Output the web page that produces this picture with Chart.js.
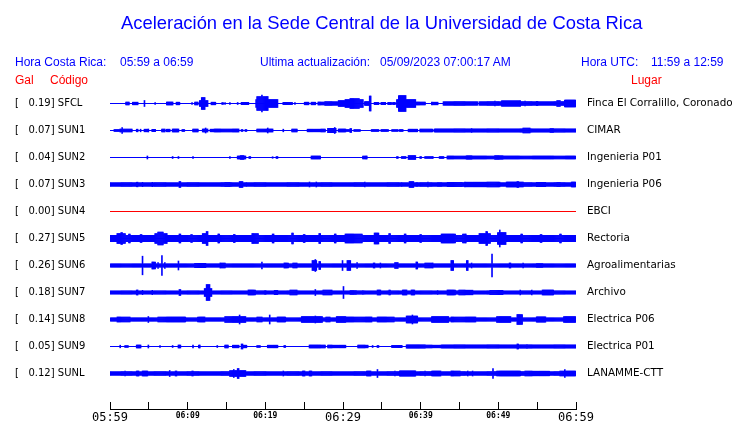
<!DOCTYPE html>
<html>
<head>
<meta charset="utf-8">
<script src="https://cdn.jsdelivr.net/npm/chart.js@4.4.1/dist/chart.umd.min.js"></script>
<style>
  html, body { margin: 0; padding: 0; background: #ffffff; }
  #wrap { position: relative; width: 740px; height: 423px; overflow: hidden; }
  #c { position: absolute; left: 0; top: 0; }
  .t { position: absolute; white-space: pre; font-family: "Liberation Sans", Arial, sans-serif; line-height: 1; }
  .blue { color: #0000ff; }
  .red { color: #ff0000; }
</style>
</head>
<body>
<div id="wrap">
  <canvas id="c" width="740" height="423"></canvas>
  <div class="t blue" style="left:121px; top:14.4px; font-size:18.4px;">Aceleración en la Sede Central de la Universidad de Costa Rica</div>
  <div class="t blue" style="left:15px; top:55.8px; font-size:12px;">Hora Costa Rica:</div>
  <div class="t blue" style="left:120px; top:55.8px; font-size:12px;">05:59 a 06:59</div>
  <div class="t blue" style="left:260px; top:55.8px; font-size:12px;">Ultima actualización:</div>
  <div class="t blue" style="left:380px; top:55.8px; font-size:12px;">05/09/2023 07:00:17 AM</div>
  <div class="t blue" style="left:581px; top:55.8px; font-size:12px;">Hora UTC:</div>
  <div class="t blue" style="left:651px; top:55.8px; font-size:12px;">11:59 a 12:59</div>
  <div class="t red" style="left:15px; top:73.8px; font-size:12px;">Gal</div>
  <div class="t red" style="left:50px; top:73.8px; font-size:12px;">Código</div>
  <div class="t red" style="left:631px; top:73.8px; font-size:12px;">Lugar</div>
</div>
<script>
// ---- DATA ----
const codes  = ["SFCL", "SUN1", "SUN2", "SUN3", "SUN4", "SUN5", "SUN6", "SUN7", "SUN8", "SUN9", "SUNL"];
const gal    = [0.19, 0.07, 0.04, 0.07, 0.00, 0.27, 0.26, 0.18, 0.14, 0.05, 0.12];
const places = ["Finca El Corralillo, Coronado", "CIMAR", "Ingenieria P01", "Ingenieria P06", "EBCI",
                "Rectoria", "Agroalimentarias", "Archivo", "Electrica P06", "Electrica P01", "LANAMME-CTT"];
// minutes after 05:59 for axis ticks and their labels
const tickMinutes = [0, 5, 10, 15, 20, 25, 30, 35, 40, 45, 50, 55, 60];
const tickLabels  = ["05:59", "", "06:09", "", "06:19", "", "06:29", "", "06:39", "", "06:49", "", "06:59"];
const majorLabels = ["05:59", "06:29", "06:59"];

// Envelope segments per trace: [start minute, end minute, half-amplitude]
const sfcl = [[2.1,2.4,1.3],[3.0,3.6,1.3],[4.4,4.4,3],[5.8,5.8,1],[7.3,8.1,1.5],[8.6,8.9,1.3],[10.6,10.6,1],[10.9,11.3,1.3],
  [11.6,12.5,3],[11.8,12.2,6],[13.1,13.5,1.3],[14.5,14.5,1],[14.8,14.8,1],[15.4,15.4,1],[16.4,16.4,1],[17.0,17.8,1.2],
  [18.8,21.6,4],[19.0,20.3,7],[19.6,19.6,8.5],[22.3,23.4,1.2],[23.8,23.8,1],[25.1,25.5,1.3],[26.0,26.4,1.3],[26.8,27.7,1.5],
  [27.7,29.4,1.8],[29.4,30.3,3],[30.3,32.6,4],[31.0,32.0,5],[32.8,33.5,2],[33.5,33.5,7.5],[34.1,34.5,1.2],[35.0,35.4,1.2],
  [35.8,36.2,1.2],[36.5,36.7,1.2],[37.0,39.3,4],[37.2,38.0,8],[39.3,40.6,1.5],[41.5,42.2,1.3],[42.9,47.3,1.8],[47.6,60,1.8],
  [49.6,49.6,2.5],[50.5,52.8,2.8],[53.4,53.4,2.5],[55,55,2.2],[57.6,57.9,3],[58.6,59.9,3.5]];
const sun1 = [[0.6,1.3,1],[1.3,2.2,1.5],[1.6,1.6,3],[2.3,2.8,1.5],[3.5,3.5,1.3],[3.9,3.9,1.3],[4.5,4.8,1.3],[4.9,4.9,1.5],
  [5.5,5.8,1.2],[6.7,7.1,1.3],[7.3,7.7,1.3],[8.1,8.8,1.5],[9.3,9.5,1],[10.7,11.3,1.3],[12.0,12.5,1.5],[12.3,12.3,2.5],
  [12.9,13.3,1.3],[13.5,14.8,1.5],[14.8,16.5,1.5],[16.9,17.1,1],[17.4,17.6,1],[18.9,20.9,1.5],[20.3,20.3,2.5],[22.3,22.3,1.3],
  [23.4,24.1,1.3],[25.5,27.7,1.3],[28.1,29.0,2.2],[28.9,28.9,3],[29.4,30.3,1.5],[30.4,30.8,1],[31,31,2],[31.5,32.2,1],
  [33.7,34.5,1],[35,35.8,1],[36.3,37,1],[37.3,37.7,1],[38.4,39.5,1.3],[39.9,41.5,1.3],[41.8,60,1.6],[46.6,46.6,2],
  [53.2,54.1,2.5],[56.7,57,2]];
const sun2 = [[4.8,4.8,1.5],[8.1,8.1,1],[8.8,8.8,1],[10.7,10.7,1],[15.4,15.4,1],[16.4,17.4,1.5],[16.8,17.2,2],[18,18,1],
  [20.9,20.9,0.8],[21.5,21.5,1],[26,27,1.5],[32.6,33.1,1.5],[37,37,1],[37.6,38,1],[38.4,39.3,2],[40,40,1],[40.6,41.5,1],
  [42.5,42.9,1],[43.5,60,1.5],[46,46.6,1.8],[49.6,50.6,1.8]];
const sun3 = [[0,60,1.8],[3.5,3.5,2.3],[4.2,4.2,2.2],[5.4,5.4,2.2],[9.0,9.0,3],[14.8,15.4,2.2],[16.7,17.1,3],[17.6,17.6,2],
  [25.7,25.7,2.5],[26.6,26.6,2.5],[32.8,32.8,2.5],[37.6,37.6,2],[38.6,39,3],[39.5,39.5,2],[40.9,40.9,2.5],[42.2,42.7,2],
  [43.5,45.3,2.2],[45.7,50.2,2.3],[51.1,53.2,2.5],[52.5,52.5,3],[55,56,2.2],[57.6,57.9,2.2],[59.5,59.9,2.5]];
const sun4 = [];
const sun5 = [[0,60,3.2],[1.0,1.9,5],[1.5,1.5,6],[2.5,2.5,4.5],[4,4,4],[5.8,7.3,5],[6.2,6.8,6.5],[9,9,4.5],[10.5,10.5,4],
  [12,12.6,5],[12.5,12.5,7],[14,14,4.5],[16,16,4],[18.3,19,5],[21,21,4.5],[23.5,23.5,5.5],[25,25,4],[27,27,5],[29,29,4.5],
  [30.3,32.4,4.5],[34.1,34.5,5.5],[36,36,5],[38,38,4.5],[40,40,4],[42.7,44.4,4.5],[45.4,45.8,4.5],[47.6,48.9,5],
  [48.5,48.5,7],[50,50.9,6],[50.2,50.2,8.5],[53,53,4.5],[55.5,55.5,4],[58,58,4.5]];
const sun6 = [[0,60,1.7],[4.2,4.2,9.3],[5.5,5.8,3.5],[6.2,6.2,3],[6.7,6.7,10],[7.1,7.1,3],[8.8,8.8,4.5],[11,12.3,2.2],
  [14.2,14.8,2.5],[19.6,19.6,3.5],[22.5,22.9,2.5],[23.6,24.1,2.5],[26.1,26.6,5],[26.4,26.4,6],[27,27,4],[29.9,29.9,5],
  [30.6,30.9,5],[31.8,31.8,3],[33.9,34.1,2.5],[34.8,34.8,2.5],[36.7,37.1,3],[39.5,39.5,3.5],[40.6,41.6,2.5],[44,44.2,5],
  [46,46,5],[46.6,46.6,2.5],[49.2,49.2,11.5],[51.5,51.5,2.5],[53.2,53.2,2.5],[55,55.7,2]];
const sun7 = [[0,60,1.6],[3.5,3.5,2.5],[4.2,4.2,2.2],[5.4,5.4,2.2],[9.0,9.0,3],[12.2,13.1,4],[12.5,12.8,8],[17.8,18.7,2.5],
  [20,20,2],[21.2,21.6,2.2],[23.2,24.1,2.5],[26.4,26.4,3],[27.5,28.5,2.3],[30.1,30.1,6],[31,31.7,2],[32.6,32.6,2],
  [34.4,34.8,2.5],[36,36,2.5],[37.7,38.2,2.5],[38.8,39.2,2.5],[42.2,42.2,2],[43.4,44.4,2.5],[45,46.7,2.3],[48.9,50.6,2.2],
  [52.8,52.8,2.5],[54.3,54.3,2.5],[55.7,57,2.5]];
const sun8 = [[0,60,1.7],[1,2.6,2.5],[4.9,4.9,3],[6.2,9.7,2.5],[11.3,12.2,2.5],[14.8,17.4,3],[16.7,16.7,4.5],[19,19.5,2.5],
  [20.6,20.6,4.5],[21.6,22.5,2.5],[24.7,27.3,3],[26.4,26.4,3.5],[27.8,28.3,2.5],[29.2,30.3,3],[30.3,33.7,2.5],[34.5,36.5,2.5],
  [38.2,39.5,3.5],[38.9,38.9,4.5],[41.5,43.5,3],[44,45.7,2.5],[45,47,2.5],[49.8,51.5,3],[52.4,53,5],[55,56,2.7],[58.5,59.9,3]];
const sun9 = [[1.3,1.3,1.3],[1.9,2.3,1],[3.5,3.9,1.5],[4.9,4.9,1.5],[6.4,6.4,1],[8.1,8.1,1],[8.8,9,1.5],[10.7,10.7,1.5],
  [11.5,11.5,1.5],[13.8,13.8,1],[14.8,15.2,1.3],[15.8,16.6,1.3],[17,17,2.5],[17.2,17.6,1.3],[18.9,19.3,1],[20.3,21.6,1.3],
  [22.5,22.5,1],[25.7,27.7,1.5],[28.1,30.3,1.3],[31.9,33.2,1.3],[33.8,33.8,1],[34.5,34.5,1],[36.3,37.6,1.2],[38.2,40.6,1.7],
  [40.6,42.5,1.3],[42.7,60,1.6],[52.5,52.5,2.5],[53.7,53.7,2]];
const sunl = [[0,60,1.8],[1.9,1.9,2.5],[3.5,3.7,2.5],[4.2,4.8,2.5],[7.7,7.7,3],[8.4,8.6,2.5],[10.6,10.7,2.5],[15.4,17.4,3],
  [15.9,15.9,4],[16.5,16.5,5],[22.3,22.3,2.5],[24.8,25.1,2.5],[25.7,25.9,2.5],[33.1,33.5,2.5],[34.4,34.4,4],[36.7,36.7,2.5],
  [37.3,39.3,2.7],[40.6,40.6,2.5],[41.5,42.5,2.5],[44,45,2.5],[46.1,46.1,2.5],[46.7,46.7,2.5],[49.3,49.3,5],[49.8,52.8,2.5],
  [53.5,56.5,2.3],[57.9,59.9,2.5],[58.6,58.6,4]];

const traces = [sfcl, sun1, sun2, sun3, sun4, sun5, sun6, sun7, sun8, sun9, sunl];

// ---- build library tables ----
const SPAN = 60;          // minutes shown
const BIN = 0.125;        // minutes per envelope column
const UNIT = 1 / 27;      // amplitude unit relative to channel spacing
const nBins = Math.round(SPAN / BIN);

function envelopeBars(segs, row) {
  const out = [];
  for (let k = 0; k < nBins; k++) {
    const lo = k * BIN, hi = lo + BIN;
    let a = 0;
    for (const [t0, t1, amp] of segs) {
      if (t0 <= hi && t1 >= lo && amp > a) a = amp;
    }
    if (a > 0) out.push({ x: lo + BIN / 2, y: [row - a * UNIT, row + a * UNIT] });
  }
  return out;
}

const datasets = [];
traces.forEach((segs, i) => {
  const color = codes[i] === "SUN4" ? "#ff0000" : "#0000ff";
  datasets.push({
    type: 'line', data: [{ x: 0, y: i }, { x: SPAN, y: i }],
    borderColor: color, borderWidth: 1, pointRadius: 0, fill: false, order: 2
  });
  datasets.push({
    type: 'bar', data: envelopeBars(segs, i),
    backgroundColor: color, borderWidth: 0, grouped: false,
    barPercentage: 1, categoryPercentage: 1, order: 1
  });
});

const fixW = w => (s => { s.width = w; s.paddingTop = 0; s.paddingBottom = 0; });
const fixH = h => (s => { s.height = h; });
const Y_MIN = -0.5, Y_MAX = 11.3148;

new Chart(document.getElementById('c'), {
  type: 'bar',
  data: { datasets },
  options: {
    responsive: false, animation: false, events: [],
    layout: { padding: { left: 15, right: 0, top: 90, bottom: 0 } },
    plugins: { legend: { display: false }, title: { display: false }, tooltip: { enabled: false } },
    scales: {
      x: {
        type: 'linear', position: 'bottom', min: 0, max: SPAN, offset: false,
        afterBuildTicks: s => { s.ticks = tickMinutes.map(v => ({ value: v })); },
        ticks: {
          autoSkip: false, maxRotation: 0, padding: 9, color: '#000',
          callback: (v, idx) => tickLabels[idx],
          font: ctx => {
            const lbl = tickLabels[ctx.index];
            return majorLabels.includes(lbl)
              ? { family: 'DejaVu Sans Mono', size: 12, weight: 'normal', lineHeight: 1.2 }
              : { family: 'DejaVu Sans Mono', size: 8, weight: 'bold', lineHeight: 1.2 };
          }
        },
        grid: { display: true, offset: false, drawOnChartArea: false, drawTicks: true, tickLength: -7, color: '#000', lineWidth: 1 },
        border: { display: true, color: '#000', width: 1 },
        afterFit: fixH(14)
      },
      y: {
        type: 'linear', position: 'left', reverse: true, min: Y_MIN, max: Y_MAX,
        afterBuildTicks: s => { s.ticks = codes.map((c, i) => ({ value: i })); },
        ticks: {
          crossAlign: 'far', color: '#000', padding: 0,
          font: { family: 'DejaVu Sans', size: 10 },
          callback: (v, idx) => '[   ' + gal[idx].toFixed(2) + '] ' + codes[idx]
        },
        grid: { display: false, drawTicks: false }, border: { display: false },
        afterFit: fixW(95)
      },
      y2: {
        type: 'linear', position: 'right', reverse: true, min: Y_MIN, max: Y_MAX,
        afterBuildTicks: s => { s.ticks = places.map((p, i) => ({ value: i })); },
        ticks: {
          color: '#000', padding: 11,
          font: { family: 'DejaVu Sans', size: 10.4 },
          callback: (v, idx) => places[idx]
        },
        grid: { display: false, drawTicks: false }, border: { display: false },
        afterFit: fixW(164)
      }
    }
  }
});
</script>
</body>
</html>
